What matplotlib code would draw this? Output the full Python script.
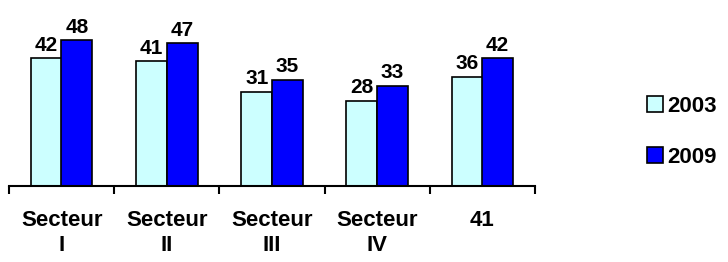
import matplotlib.pyplot as plt
import numpy as np

plt.rcParams['font.family'] = ['Liberation Sans', 'DejaVu Sans']
plt.rcParams['font.weight'] = 'bold'

categories = ["Secteur\nI", "Secteur\nII", "Secteur\nIII", "Secteur\nIV", "41"]
values_2003 = [42, 41, 31, 28, 36]
values_2009 = [48, 47, 35, 33, 42]
series_names = ["2003", "2009"]

W, H = 728, 262
fig = plt.figure(figsize=(W / 100, H / 100), dpi=100)
ax = fig.add_axes([9 / W, 76 / H, 526 / W, 182.5 / H])

x = np.arange(len(categories))
bw = 0.295
b1 = ax.bar(x - 0.145, values_2003, bw, color='#CCFFFF', edgecolor='black', linewidth=1.2, label=series_names[0])
b2 = ax.bar(x + 0.145, values_2009, bw, color='#0000FF', edgecolor='black', linewidth=1.2, label=series_names[1])

for bars in (b1, b2):
    for rect in bars:
        ax.annotate(str(int(rect.get_height())),
                    xy=(rect.get_x() + rect.get_width() / 2, rect.get_height()),
                    xytext=(0, 2.5), textcoords='offset points',
                    ha='center', va='bottom', fontsize=15, fontweight='bold')

ax.set_xlim(-0.5, len(categories) - 0.5)
ax.set_ylim(0, 60)
for s in ('top', 'right', 'left'):
    ax.spines[s].set_visible(False)
ax.spines['bottom'].set_linewidth(1.5)
ax.set_yticks([])

ax.set_xticks(x)
ax.set_xticklabels(categories, fontsize=16, fontweight='bold', linespacing=1.3)
ax.tick_params(axis='x', which='major', length=0, pad=17)
ax.set_xticks(np.arange(-0.5, len(categories), 1.0), minor=True)
ax.tick_params(axis='x', which='minor', length=6, width=1.5, direction='out')

leg = fig.legend(handles=[b1, b2], labels=series_names, loc='center left',
                 bbox_to_anchor=(647 / W, 130 / H), frameon=False,
                 prop={'size': 16, 'weight': 'bold'},
                 handlelength=0.7, handleheight=0.7, handletextpad=0.22,
                 labelspacing=1.35, borderaxespad=0, borderpad=0)

fig.savefig('out.png', dpi=100)
